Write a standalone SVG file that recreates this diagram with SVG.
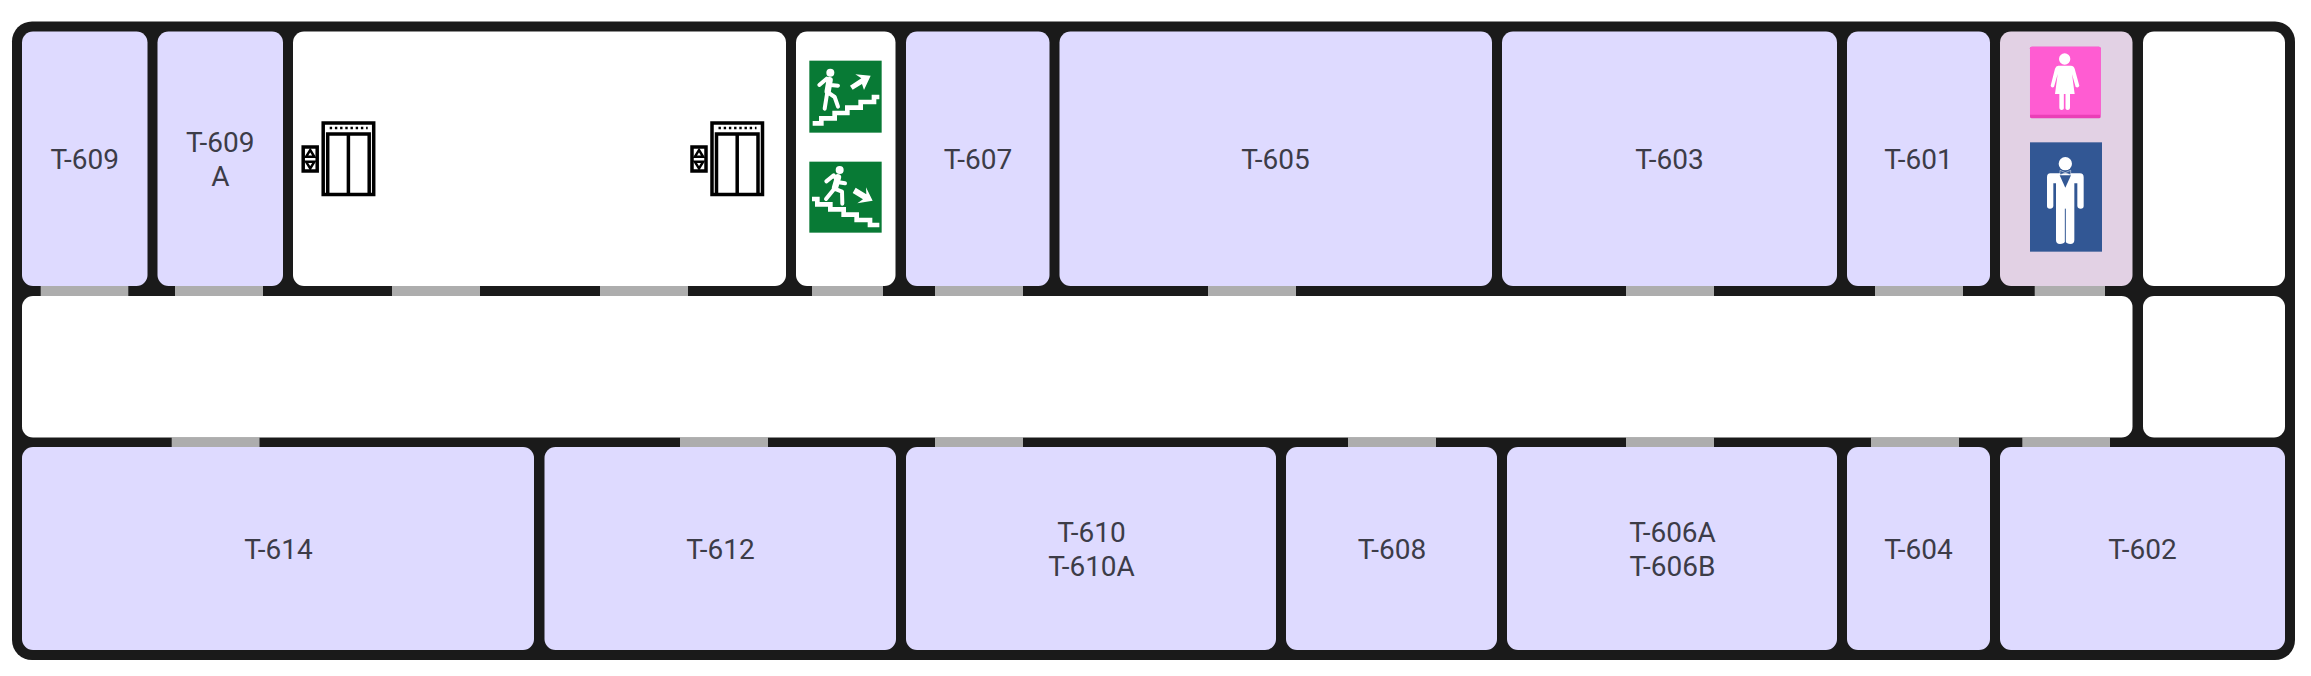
<svg xmlns="http://www.w3.org/2000/svg" width="2311" height="676" viewBox="0 0 2311 676">
<style>
.room{fill:#dedaff}.blank{fill:#fff}.wc{fill:#e2d1e4}
.door{fill:#adadad}
text{font-family:Roboto,"Liberation Sans",sans-serif;font-size:28px;fill:#3c3c48;text-anchor:middle}
.lf{fill:none;stroke:#000;stroke-width:3.500}
.g{fill:#087a35}.w{fill:#fff}
.ws{fill:none;stroke:#fff;stroke-linecap:round;stroke-linejoin:round}
.st{fill:none;stroke:#fff;stroke-width:14;stroke-linejoin:miter}
</style>
<defs>
<g id="lift">
<rect class="lf" x="1.500" y="1.500" width="50.500" height="71.500"/>
<path class="lf" d="M6 73V12.500H47.500V73M26.700 12.500V73"/>
<path d="M8 6.500H46" stroke="#000" stroke-width="2.600" stroke-dasharray="2.400 2.800" fill="none"/>
<rect class="lf" x="-18.500" y="25.500" width="14" height="24"/>
<path d="M-11.500 28.500l4.200 6.800h-8.400zM-11.500 47l4.200-6.800h-8.400z" fill="none" stroke="#000" stroke-width="2.400"/>
</g>
</defs>
<rect id="background" width="2311" height="676" fill="#fff"/>
<rect id="walls" x="12" y="21.500" width="2283" height="638.500" rx="20" fill="#1a1a1a"/>

<g id="doors">
<rect class="door" x="40.700" y="286" width="87.600" height="10"/>
<rect class="door" x="175" y="286" width="88" height="10"/>
<rect class="door" x="392" y="286" width="88" height="10"/>
<rect class="door" x="600" y="286" width="88" height="10"/>
<rect class="door" x="812" y="286" width="71" height="10"/>
<rect class="door" x="935" y="286" width="88" height="10"/>
<rect class="door" x="1208" y="286" width="88" height="10"/>
<rect class="door" x="1626" y="286" width="88" height="10"/>
<rect class="door" x="1875" y="286" width="88" height="10"/>
<rect class="door" x="2034.700" y="286" width="70.300" height="10"/>
<rect class="door" x="171.700" y="437.500" width="87.800" height="9.500"/>
<rect class="door" x="680" y="437.500" width="88" height="9.500"/>
<rect class="door" x="935" y="437.500" width="88" height="9.500"/>
<rect class="door" x="1348" y="437.500" width="88" height="9.500"/>
<rect class="door" x="1626" y="437.500" width="88" height="9.500"/>
<rect class="door" x="1871" y="437.500" width="88" height="9.500"/>
<rect class="door" x="2022.300" y="437.500" width="87.700" height="9.500"/>
</g>

<g id="T-609"><rect class="room" x="22" y="31.500" width="125.500" height="254.500" rx="11"/><text x="84.700" y="168.500">T-609</text></g>
<g id="T-609A"><rect class="room" x="157.500" y="31.500" width="125.500" height="254.500" rx="11"/><text x="220.300" y="151.500">T-609</text><text x="220.300" y="185.500">A</text></g>
<g id="lifts"><rect class="blank" x="293" y="31.500" width="493" height="254.500" rx="11"/>
<use href="#lift" x="321.700" y="121.500"/><use href="#lift" x="710.500" y="121.500"/></g>
<g id="stairs"><rect class="blank" x="796" y="31.500" width="99.500" height="254.500" rx="11"/>
<g transform="translate(790 20) scale(.33333)">
<rect class="g" x="58" y="122" width="217" height="216"/>
<circle class="w" cx="121" cy="158" r="12"/>
<path class="ws" stroke-width="19" d="M119 180L113 214"/>
<path class="ws" stroke-width="12" d="M88 195L110 176L122 195L144 197M112 216L104 266M112 216L134 231L144 260"/>
<path class="st" d="M68 310H94V295H134V279H172V263H212V246H252V231H268"/>
<polygon class="w" points="180,197 214,175 196,163 242,167 222,210 216,192 188,209"/>
</g>
<g transform="translate(790 150) scale(.33333)">
<rect class="g" x="58" y="35" width="217" height="213"/>
<circle class="w" cx="149" cy="60" r="12"/>
<path class="ws" stroke-width="19" d="M144 82L135 113"/>
<path class="ws" stroke-width="12" d="M109 94L131 76L146 97L165 100M133 116L108 147M133 116L156 125L157 161"/>
<path class="st" d="M66 147H82V163H121V178H161V194H200V210H240V225H268"/>
<polygon class="w" points="188,129 197,113 229,133 228,112 248,152 202,160 219,148"/>
</g></g>
<g id="T-607"><rect class="room" x="906" y="31.500" width="143.500" height="254.500" rx="11"/><text x="978" y="168.500">T-607</text></g>
<g id="T-605"><rect class="room" x="1059.500" y="31.500" width="432.500" height="254.500" rx="11"/><text x="1275.500" y="168.500">T-605</text></g>
<g id="T-603"><rect class="room" x="1502" y="31.500" width="335" height="254.500" rx="11"/><text x="1669.500" y="168.500">T-603</text></g>
<g id="T-601"><rect class="room" x="1847" y="31.500" width="143" height="254.500" rx="11"/><text x="1918.500" y="168.500">T-601</text></g>
<g id="wc"><rect class="wc" x="2000" y="31.500" width="132.500" height="254.500" rx="11"/>
<g transform="translate(1990 20) scale(.33333)">
<rect x="120" y="80" width="212" height="215" rx="5" fill="#ea3fb7"/>
<path d="M120 85a5 5 0 0 1 5-5H327a5 5 0 0 1 5 5V284H120z" fill="#ff5cd2"/>
<circle class="w" cx="224" cy="117" r="17"/>
<path class="w" d="M205 137H243Q251 137 254 146L268 197Q265 205 257 201L246 162L254 222H240V262Q240 270 233 270Q227 270 226 264H222Q221 270 215 270Q208 270 208 262V222H195L203 162L192 201Q184 205 182 197L195 146Q198 137 205 137Z"/>
<path d="M224 222V264" stroke="#ff5cd2" stroke-width="5" fill="none"/>
<rect x="120" y="367" width="216" height="328" fill="#325794"/>
<circle class="w" cx="226" cy="431" r="20"/>
<path class="w" d="M181 460H270Q281 460 281 472V558Q281 566 272 566Q263 566 262 558V490L253 490V660Q253 672 241 672Q230 672 226 664Q222 672 210 672Q198 672 198 660V490L190 490V558Q189 566 180 566Q171 566 171 558V472Q171 460 181 460Z"/>
<path d="M226 566V668" stroke="#325794" stroke-width="3" fill="none"/>
<path d="M209 466L243 466L226 503Z" fill="#325794"/>
<path d="M210 451L226 458L242 451V464L226 459L210 464Z" fill="#325794" stroke="#fff" stroke-width="1.500"/>
</g></g>
<g id="room-ne"><rect class="blank" x="2143" y="31.500" width="142" height="254.500" rx="11"/></g>
<g id="corridor"><rect class="blank" x="22" y="296" width="2110.500" height="141.500" rx="11"/></g>
<g id="room-e"><rect class="blank" x="2143" y="296" width="142" height="141.500" rx="11"/></g>
<g id="T-614"><rect class="room" x="22" y="447" width="512" height="203" rx="11"/><text x="278.500" y="559">T-614</text></g>
<g id="T-612"><rect class="room" x="544.500" y="447" width="351.500" height="203" rx="11"/><text x="720.500" y="559">T-612</text></g>
<g id="T-610"><rect class="room" x="906" y="447" width="370" height="203" rx="11"/><text x="1091.500" y="542">T-610</text><text x="1091.500" y="576">T-610A</text></g>
<g id="T-608"><rect class="room" x="1286" y="447" width="211" height="203" rx="11"/><text x="1392" y="559">T-608</text></g>
<g id="T-606"><rect class="room" x="1507" y="447" width="330" height="203" rx="11"/><text x="1672.500" y="542">T-606A</text><text x="1672.500" y="576">T-606B</text></g>
<g id="T-604"><rect class="room" x="1847" y="447" width="143" height="203" rx="11"/><text x="1918.500" y="559">T-604</text></g>
<g id="T-602"><rect class="room" x="2000" y="447" width="285" height="203" rx="11"/><text x="2142.500" y="559">T-602</text></g>
</svg>
